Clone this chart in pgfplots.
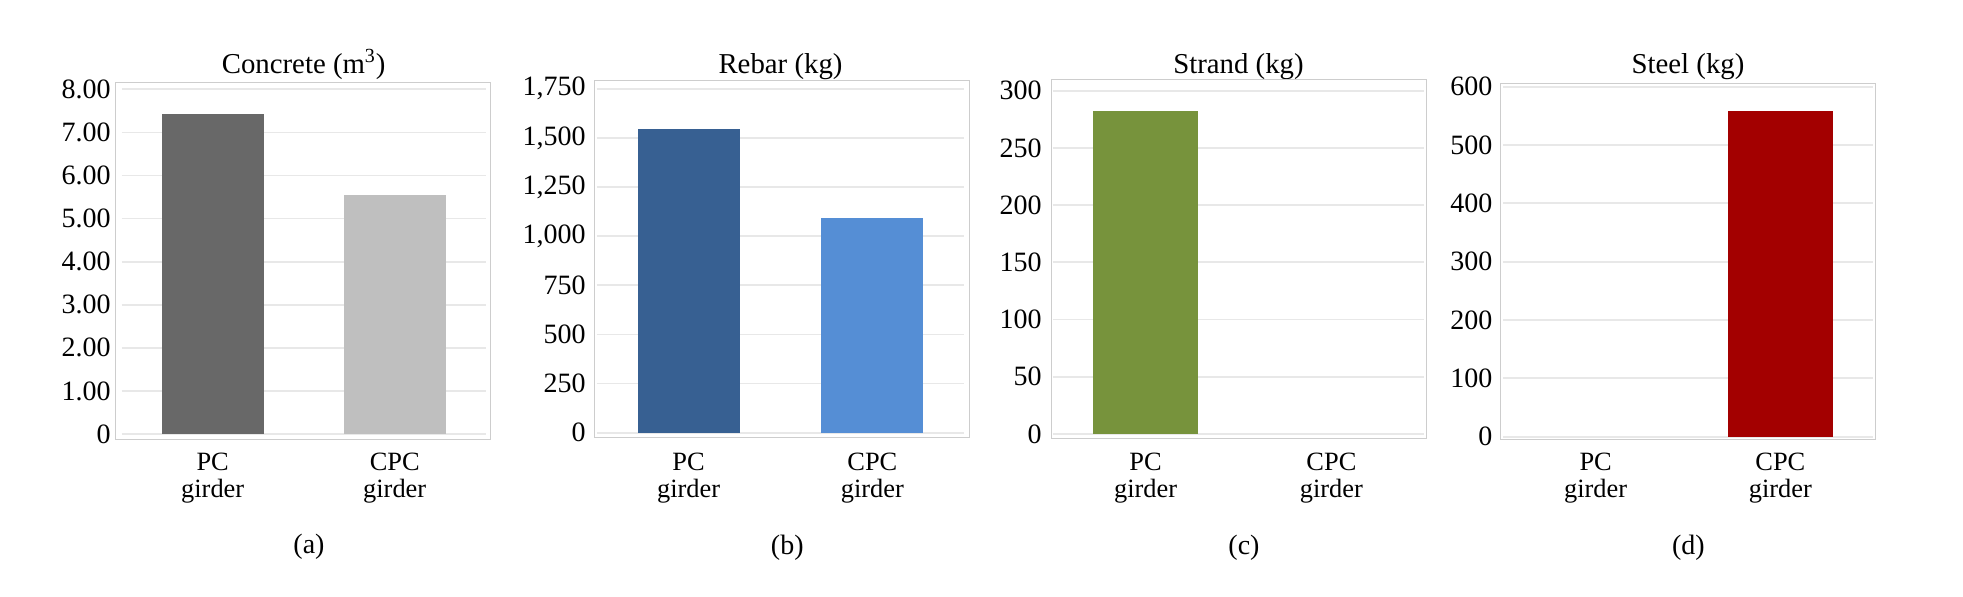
\documentclass[border=0pt]{standalone}
\usepackage{pgfplots}
\pgfplotsset{compat=1.18}
\usepackage{fontspec}
\setmainfont{Liberation Serif}
\definecolor{pcgray}{RGB}{104,104,104}
\definecolor{cpcgray}{RGB}{191,191,191}
\definecolor{pcblue}{RGB}{55,96,146}
\definecolor{cpcblue}{RGB}{85,142,213}
\definecolor{strandgreen}{RGB}{119,147,60}
\definecolor{steelred}{RGB}{163,0,0}
\definecolor{gridgray}{RGB}{232,232,232}
\definecolor{framegray}{RGB}{205,205,205}
\pgfplotsset{
  every axis title/.style={at={(0.5,1)}, anchor=base, font=\fontsize{14.4}{16}\selectfont},
  panel/.style={
    scale only axis, anchor=south west,
    xmin=-0.5, xmax=1.5, ymin=0,
    axis line style={draw=none},
    ybar,
    xtick={0,1}, xticklabels={PC\\girder,CPC\\girder},
    xticklabel style={align=center, font=\fontsize{13.2}{13.5}\selectfont, anchor=base},
    major tick length=0pt,
    ymajorgrids, grid style={color=gridgray, line width=0.9pt},
    yticklabel style={font=\fontsize{14}{16}\selectfont, xshift=-2pt},
    /pgf/number format/assume math mode=true,
  },
}
\begin{document}
\begin{tikzpicture}
\path[use as bounding box] (0,0) rectangle (981.5pt,298pt);

% (a) Concrete
\begin{axis}[panel, name=a, at={(60.85pt,81pt)}, width=182pt, height=172.35pt,
  ymax=8, ytick={0,1,2,3,4,5,6,7,8},
  yticklabels={0,1.00,2.00,3.00,4.00,5.00,6.00,7.00,8.00},
  bar width=50.85pt,
  xticklabel style={yshift=-31.5pt},
  title={Concrete (m\textsuperscript{3})}, title style={yshift=8.15pt}]
\addplot[fill=pcgray, draw=none, bar shift=0pt] coordinates {(0,7.42)};
\addplot[fill=cpcgray, draw=none, bar shift=0pt] coordinates {(1,5.55)};
\end{axis}
\draw[framegray, line width=0.5pt] ([xshift=-3pt,yshift=-2.5pt]a.south west) rectangle ([xshift=2.5pt,yshift=3.5pt]a.north east);

% (b) Rebar
\begin{axis}[panel, name=b, at={(298.35pt,81.65pt)}, width=183.8pt, height=172pt,
  ymax=1750, ytick={0,250,500,750,1000,1250,1500,1750},
  yticklabels={0,250,500,750,{1,000},{1,250},{1,500},{1,750}},
  bar width=51pt,
  xticklabel style={yshift=-32.15pt},
  title={Rebar (kg)}, title style={yshift=7.85pt}]
\addplot[fill=pcblue, draw=none, bar shift=0pt] coordinates {(0,1543)};
\addplot[fill=cpcblue, draw=none, bar shift=0pt] coordinates {(1,1094)};
\end{axis}
\draw[framegray, line width=0.5pt] ([xshift=-1.2pt,yshift=-2.3pt]b.south west) rectangle ([xshift=2.35pt,yshift=4pt]b.north east);

% (c) Strand
\begin{axis}[panel, name=c, at={(526.35pt,81pt)}, width=185.8pt, height=171.65pt,
  ymax=300, ytick={0,50,100,150,200,250,300},
  yticklabels={0,50,100,150,200,250,300},
  bar width=52.6pt,
  xticklabel style={yshift=-31.5pt},
  title={Strand (kg)}, title style={yshift=8.85pt}]
\addplot[fill=strandgreen, draw=none, bar shift=0pt] coordinates {(0,282.5)};
\addplot[fill=none, draw=none, bar shift=0pt] coordinates {(1,0)};
\end{axis}
\draw[framegray, line width=0.5pt] ([xshift=-0.5pt,yshift=-2.35pt]c.south west) rectangle ([xshift=1.2pt,yshift=5.7pt]c.north east);

% (d) Steel
\begin{axis}[panel, name=d, at={(751.65pt,79.65pt)}, width=184.7pt, height=175pt,
  ymax=600, ytick={0,100,200,300,400,500,600},
  yticklabels={0,100,200,300,400,500,600},
  bar width=52.8pt,
  xticklabel style={yshift=-30.15pt},
  title={Steel (kg)}, title style={yshift=6.85pt}]
\addplot[fill=none, draw=none, bar shift=0pt] coordinates {(0,0)};
\addplot[fill=steelred, draw=none, bar shift=0pt] coordinates {(1,557.8)};
\end{axis}
\draw[framegray, line width=0.5pt] ([xshift=-1.3pt,yshift=-1.3pt]d.south west) rectangle ([xshift=1.3pt,yshift=1.7pt]d.north east);

\node[anchor=base, font=\fontsize{14}{16}\selectfont] at (154.5pt,21.35pt) {(a)};
\node[anchor=base, font=\fontsize{14}{16}\selectfont] at (393.65pt,21pt) {(b)};
\node[anchor=base, font=\fontsize{14}{16}\selectfont] at (622pt,21pt) {(c)};
\node[anchor=base, font=\fontsize{14}{16}\selectfont] at (844.15pt,21pt) {(d)};
\end{tikzpicture}
\end{document}
